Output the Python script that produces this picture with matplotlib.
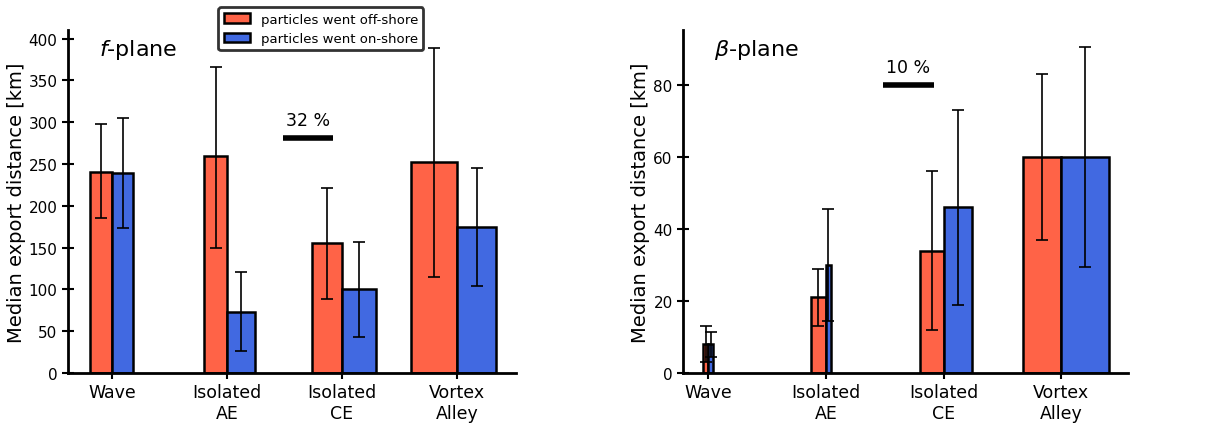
import matplotlib.pyplot as plt
import numpy as np

# categories and data
categories = ['Wave', 'Isolated\nAE', 'Isolated\nCE', 'Vortex\nAlley']

# f-plane: median export distance [km], error ranges (low, high), bar widths (% of particles)
f_off = [241, 259, 155, 252]
f_off_lo = [185, 150, 89, 115]
f_off_hi = [298, 366, 221, 389]
f_off_pct = [14.2, 14.9, 19.4, 29.8]
f_on = [239, 73, 100, 175]
f_on_lo = [173, 26, 43, 104]
f_on_hi = [305, 121, 157, 245]
f_on_pct = [13.6, 18.1, 22.0, 25.2]
f_ref_pct = 32

# beta-plane
b_off = [8, 21, 34, 60]
b_off_lo = [3, 13, 12, 37]
b_off_hi = [13, 29, 56, 83]
b_off_pct = [1.0, 2.9, 4.7, 7.5]
b_on = [8, 30, 46, 60]
b_on_lo = [4.5, 14.5, 19, 29.5]
b_on_hi = [11.5, 45.5, 73, 90.5]
b_on_pct = [1.0, 0.93, 5.6, 9.4]
b_ref_pct = 10

c_off = 'tomato'
c_on = 'royalblue'
ref_width = 0.43  # data width of the reference (scale) bar


def draw_panel(ax, off, off_lo, off_hi, off_pct, on, on_lo, on_hi, on_pct,
               ref_pct, ref_y, label, ylim, xlim, yticks):
    x = np.arange(len(categories))
    scale = ref_width / ref_pct
    w_off = np.array(off_pct) * scale
    w_on = np.array(on_pct) * scale
    off = np.array(off)
    on = np.array(on)
    ax.bar(x, off, width=-w_off, align='edge', color=c_off, edgecolor='k',
           linewidth=1.8, label='particles went off-shore', zorder=2)
    ax.bar(x, on, width=w_on, align='edge', color=c_on, edgecolor='k',
           linewidth=1.8, label='particles went on-shore', zorder=2)
    ax.errorbar(x - w_off / 2, off,
                yerr=[off - np.array(off_lo), np.array(off_hi) - off],
                fmt='none', ecolor='k', elinewidth=1.2, capsize=4, capthick=1.2, zorder=3)
    ax.errorbar(x + w_on / 2, on,
                yerr=[on - np.array(on_lo), np.array(on_hi) - on],
                fmt='none', ecolor='k', elinewidth=1.2, capsize=4, capthick=1.2, zorder=3)
    # scale bar for percentage
    x0 = 1.487
    ax.plot([x0, x0 + ref_width], [ref_y, ref_y], color='k', linewidth=4,
            solid_capstyle='butt')
    ax.text(x0 + ref_width / 2, ref_y + (ylim[1] * 0.025), '%d %%' % ref_pct,
            ha='center', va='bottom', fontsize=12.5)
    ax.text(0.07, 0.945, label, transform=ax.transAxes, fontsize=16,
            ha='left', va='center')
    ax.set_xticks(x)
    ax.set_xticklabels(categories, fontsize=12.5)
    ax.set_yticks(yticks)
    ax.tick_params(axis='y', labelsize=11, direction='inout', length=8, width=1.5)
    ax.tick_params(axis='x', direction='inout', length=8, width=1.5)
    ax.set_ylim(ylim)
    ax.set_xlim(xlim)
    ax.set_ylabel('Median export distance [km]', fontsize=14, labelpad=2)
    ax.spines['top'].set_visible(False)
    ax.spines['right'].set_visible(False)
    ax.spines['left'].set_linewidth(2)
    ax.spines['bottom'].set_linewidth(2)


fig = plt.figure(figsize=(12.1, 4.27), dpi=100)
ax1 = fig.add_axes([0.0562, 0.124, 0.370, 0.803])
ax2 = fig.add_axes([0.5645, 0.124, 0.368, 0.803])

draw_panel(ax1, f_off, f_off_lo, f_off_hi, f_off_pct, f_on, f_on_lo, f_on_hi, f_on_pct,
           f_ref_pct, 281, r'$f$-plane', (0, 410), (-0.383, 3.51), range(0, 401, 50))
draw_panel(ax2, b_off, b_off_lo, b_off_hi, b_off_pct, b_on, b_on_lo, b_on_hi, b_on_pct,
           b_ref_pct, 80, r'$\beta$-plane', (0, 95.2), (-0.213, 3.57), range(0, 81, 20))

leg = ax1.legend(loc='upper left', bbox_to_anchor=(0.175, 0.996),
                 bbox_transform=fig.transFigure, fontsize=9.5, frameon=True,
                 fancybox=True, framealpha=1)
leg.get_frame().set_edgecolor('#333333')
leg.get_frame().set_linewidth(2)

fig.savefig('out.png', dpi=100)
